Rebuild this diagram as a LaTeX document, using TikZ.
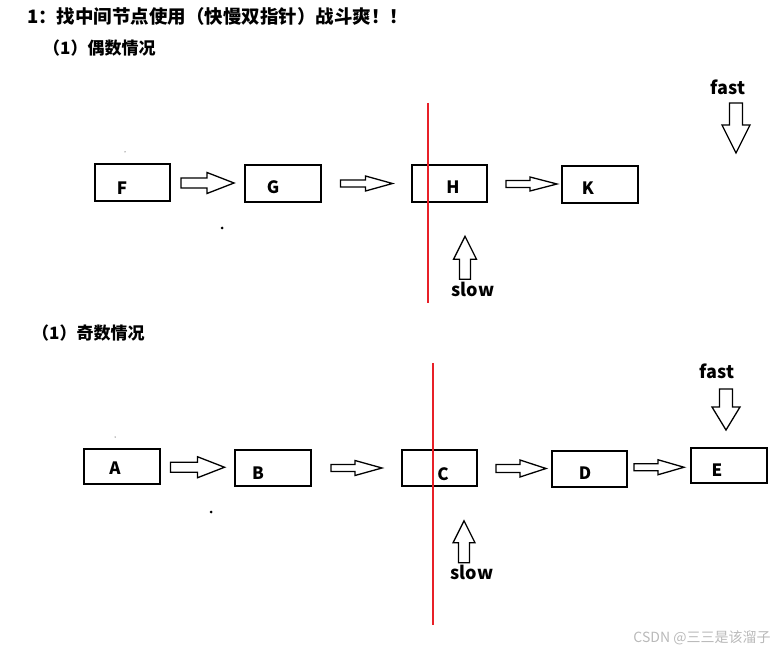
\documentclass[tikz,border=0pt]{standalone}
\usepackage{fontspec}
\setmainfont{Noto Sans CJK SC}
\usetikzlibrary{calc}
\definecolor{cutred}{RGB}{232,32,40}
\tikzset{
  cell/.style={draw, line width=1.6pt, minimum width=75pt, minimum height=36pt, inner sep=0pt},
  tag/.style={font=\bfseries\fontsize{17}{17}\selectfont, inner sep=0pt},
  ptr/.style={font=\bfseries\fontsize{18}{18}\selectfont, inner sep=0pt},
  head/.style={font=\bfseries\fontsize{17}{17}\selectfont, anchor=west, inner sep=0pt},
  cut/.style={draw=cutred, line width=1.8pt},
  arrline/.style={draw, line width=1.3pt, fill=white, line join=miter},
  dot/.style={circle, fill, inner sep=0pt},
  % length, head length, head half width, shaft half width
  pics/barrow/.style n args={4}{code={
    \draw[arrline] (-#1/2,-#4) -- (#1/2-#2,-#4) -- (#1/2-#2,-#3) -- (#1/2,0)
      -- (#1/2-#2,#3) -- (#1/2-#2,#4) -- (-#1/2,#4) -- cycle;}},
}
\begin{document}
\begin{tikzpicture}[x=1pt, y=-1pt]
  \useasboundingbox (0,0) rectangle (780,655);

  % titles
  \node[head, font=\bfseries\fontsize{18.5}{18.5}\selectfont] (title) at (27,16) {1：找中间节点使用（快慢双指针）战斗爽！！};
  \node[head] (even) at (43,48) {（1）偶数情况};
  \node[head] (odd) at (32,333) {（1）奇数情况};

  % even case
  \node[cell, minimum width=75pt, minimum height=37pt] (F) at (132.5,182.5) {};
  \node[cell, minimum width=76pt, minimum height=37pt] (G) at (283,183.5) {};
  \node[cell, minimum width=75pt, minimum height=37pt] (H) at (449.5,183.5) {};
  \node[cell, minimum width=76pt, minimum height=37pt] (K) at (600,184.5) {};
  \node[tag] at (122,188) {F};
  \node[tag] at (273,187) {G};
  \node[tag] at (453,187) {H};
  \node[tag] at (588,188) {K};
  \pic at ($(F.east)!0.5!(G.west)$) {barrow={53}{27}{10.5}{5}};
  \pic at ($(G.east)!0.5!(H.west)$) {barrow={52}{27}{7.5}{3.5}};
  \pic at ([xshift=7pt]$(H.east)!0.5!(K.west)$) {barrow={51}{27}{7}{3.5}};
  \draw[cut] (428,103) -- (428,303);
  \pic[rotate=90] at ([xshift=15.5pt, yshift=-55pt]H.south) {barrow={43}{23}{11.5}{5.5}};
  \node[ptr] (slow1) at (473,289) {slow};
  \node[ptr] (fast1) at (728,87) {fast};
  \pic[rotate=-90] at ([xshift=8pt, yshift=-41pt]fast1.center) {barrow={50}{28}{14}{6.5}};
  \node[dot, minimum size=1pt] at (125,152) {};
  \node[dot, minimum size=3pt] at (222,228) {};

  % odd case
  \node[cell, minimum width=76pt, minimum height=35pt] (A) at (122,466.5) {};
  \node[cell, minimum width=76pt, minimum height=36pt] (B) at (273,468) {};
  \node[cell, minimum width=75pt, minimum height=36pt] (C) at (439.5,468) {};
  \node[cell, minimum width=75pt, minimum height=36pt] (D) at (589.5,469) {};
  \node[cell, minimum width=76pt, minimum height=35pt] (E) at (729,465.5) {};
  \node[tag] at (115,468) {A};
  \node[tag] at (258,473) {B};
  \node[tag] at (443,474) {C};
  \node[tag] at (585,473) {D};
  \node[tag] at (717,470) {E};
  \pic at ($(A.east)!0.5!(B.west)$) {barrow={54}{27}{10.5}{5}};
  \pic at ($(B.east)!0.5!(C.west)$) {barrow={51}{27}{7.5}{3.5}};
  \pic at ([xshift=6.5pt]$(C.east)!0.5!(D.west)$) {barrow={50}{26}{8.5}{4}};
  \pic at ($(D.east)!0.5!(E.west)$) {barrow={50}{26}{7.5}{3.5}};
  \draw[cut] (433,363) -- (433,625);
  \pic[rotate=90] at ([xshift=24.5pt, yshift=-55pt]C.south) {barrow={42}{22}{11}{5.5}};
  \node[ptr] (slow2) at (472,572) {slow};
  \node[ptr] (fast2) at (717,371) {fast};
  \pic[rotate=-90] at ([xshift=9pt, yshift=-38.5pt]fast2.center) {barrow={41}{23}{14}{6.5}};
  \node[dot, minimum size=1pt] at (115,437) {};
  \node[dot, minimum size=3pt] at (211,512) {};

  % watermark
  \node[text=gray!55, font=\fontsize{14}{14}\selectfont, inner sep=0pt] (mark) at (702,638) {CSDN @三三是该溜子};
\end{tikzpicture}
\end{document}
